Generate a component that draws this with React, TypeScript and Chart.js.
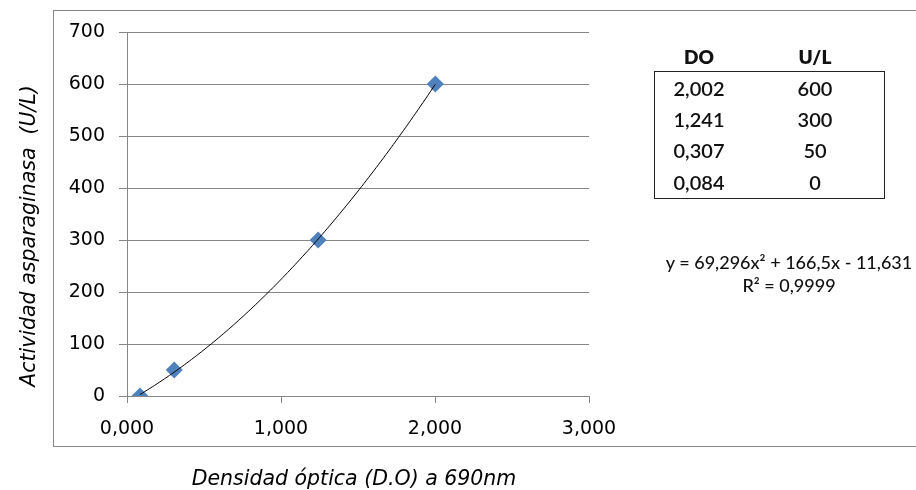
import React, { useEffect, useRef } from "react";
import { Chart, registerables } from "chart.js";

Chart.register(...registerables);

const doValues = [0.084, 0.307, 1.241, 2.002];
const ulValues = [0, 50, 300, 600];
const tableDO = ["2,002", "1,241", "0,307", "0,084"];
const tableUL = ["600", "300", "50", "0"];
const trendCoefficients = [69.296, 166.5, -11.631];
const equationText = "y = 69,296x\u00B2 + 166,5x - 11,631";
const r2Text = "R\u00B2 = 0,9999";
const xTitle = "Densidad \u00F3ptica (D.O) a 690nm";
const yTitle = "Actividad asparaginasa  (U/L)";

const GRID = "#868686";

const framePlugin = {
  id: "frame",
  beforeDraw(chart: any) {
    const ctx = chart.ctx;
    ctx.save();
    ctx.fillStyle = "#fff";
    ctx.fillRect(0, 0, chart.width, chart.height);
    ctx.strokeStyle = GRID;
    ctx.lineWidth = 1;
    ctx.strokeRect(53.5, 10.5, 1000, 436);
    ctx.restore();
  },
  afterDraw(chart: any) {
    const ctx = chart.ctx;
    ctx.save();
    ctx.fillStyle = "#000";
    ctx.font = "italic 20.5px 'DejaVu Sans'";
    ctx.textAlign = "center";
    ctx.textBaseline = "middle";
    ctx.fillText(xTitle, 354, 480);
    ctx.translate(30, 236);
    ctx.rotate(-Math.PI / 2);
    ctx.fillText(yTitle, 0, 0);
    ctx.restore();
  },
};

const trendPlugin = {
  id: "trend",
  afterDatasetsDraw(chart: any) {
    const { ctx } = chart;
    const xs = chart.scales.x;
    const ys = chart.scales.y;
    const x0 = Math.min(...doValues);
    const x1 = Math.max(...doValues);
    const [a, b, c] = trendCoefficients;
    ctx.save();
    ctx.beginPath();
    const n = 120;
    for (let i = 0; i <= n; i++) {
      const xv = x0 + ((x1 - x0) * i) / n;
      const yv = a * xv * xv + b * xv + c;
      const px = xs.getPixelForValue(xv);
      const py = ys.getPixelForValue(yv);
      if (i === 0) ctx.moveTo(px, py);
      else ctx.lineTo(px, py);
    }
    ctx.strokeStyle = "#000";
    ctx.lineWidth = 1;
    ctx.stroke();
    ctx.restore();
  },
};

export default function App() {
  const ref = useRef<HTMLCanvasElement | null>(null);

  useEffect(() => {
    if (!ref.current) return;
    const chart = new Chart(ref.current, {
      type: "scatter",
      data: {
        datasets: [
          {
            data: doValues.map((x, i) => ({ x, y: ulValues[i] })),
            pointStyle: "rectRot",
            pointRadius: 8.5,
            pointHoverRadius: 8.5,
            backgroundColor: "#4F81BD",
            borderColor: "#4F81BD",
            borderWidth: 0,
          },
        ],
      },
      options: {
        responsive: false,
        animation: false,
        events: [],
        layout: { padding: { left: 0, top: 32, right: 327, bottom: 0 } },
        plugins: {
          legend: { display: false },
          tooltip: { enabled: false },
        },
        scales: {
          x: {
            type: "linear",
            min: 0,
            max: 3,
            afterFit: (s: any) => {
              s.height = 94;
            },
            ticks: {
              stepSize: 1,
              padding: 15,
              color: "#000",
              font: { family: "'DejaVu Sans'", size: 19 },
              callback: (v: any) => Number(v).toFixed(3).replace(".", ","),
            },
            grid: {
              drawOnChartArea: false,
              drawTicks: true,
              tickLength: 7,
              color: GRID,
            },
            border: { display: true, color: GRID },
          },
          y: {
            type: "linear",
            min: 0,
            max: 700,
            afterFit: (s: any) => {
              s.width = 127;
            },
            ticks: {
              stepSize: 100,
              padding: 14,
              color: "#000",
              font: { family: "'DejaVu Sans'", size: 19 },
            },
            grid: {
              drawTicks: true,
              tickLength: 8,
              color: GRID,
            },
            border: { display: true, color: GRID },
          },
        },
      },
      plugins: [framePlugin, trendPlugin],
    });
    return () => chart.destroy();
  }, []);

  const cellFont = "'Lato', 'Noto Sans', sans-serif";
  const cell = (left: number, top: number, weight: number, size: number): React.CSSProperties => ({
    position: "absolute",
    left,
    top,
    width: 100,
    textAlign: "center",
    fontFamily: cellFont,
    fontWeight: weight,
    fontSize: size,
    lineHeight: "24px",
    color: "#111",
  });
  return (
    <div style={{ position: "absolute", left: 0, top: 0, width: 916, height: 490, background: "#fff" }}>
      <canvas ref={ref} width={916} height={490} style={{ position: "absolute", left: 0, top: 0 }} />
      <div style={cell(649, 45, 800, 19)}>DO</div>
      <div style={cell(765, 45, 800, 19)}>U/L</div>
      <div style={{ position: "absolute", left: 654, top: 71, width: 231, height: 128, border: "1.5px solid #222", boxSizing: "border-box" }} />
      {tableDO.map((d, i) => (
        <React.Fragment key={i}>
          <div style={cell(649, 76 + 31.2 * i, 600, 20)}>{d}</div>
          <div style={cell(765, 76 + 31.2 * i, 600, 20)}>{tableUL[i]}</div>
        </React.Fragment>
      ))}
      <div style={{ ...cell(639, 250, 500, 18), width: 300 }}>{equationText}</div>
      <div style={{ ...cell(639, 273, 500, 18), width: 300 }}>{r2Text}</div>
    </div>
  );
}
